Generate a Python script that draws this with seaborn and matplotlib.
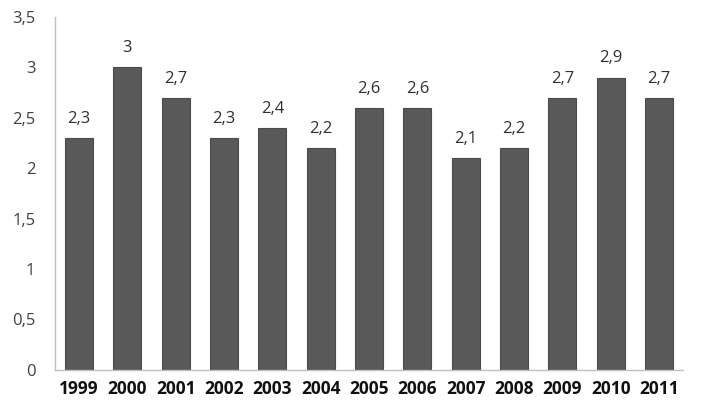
import matplotlib
matplotlib.use("Agg")
import matplotlib.pyplot as plt
import pandas as pd
import seaborn as sns

years = ["1999", "2000", "2001", "2002", "2003", "2004", "2005",
         "2006", "2007", "2008", "2009", "2010", "2011"]
values = [2.3, 3.0, 2.7, 2.3, 2.4, 2.2, 2.6, 2.6, 2.1, 2.2, 2.7, 2.9, 2.7]
y_ticks = [0, 0.5, 1, 1.5, 2, 2.5, 3, 3.5]


def comma(v):
    s = f"{v:g}"
    return s.replace(".", ",")


sns.set_theme(style="white")
plt.rcParams["font.family"] = ["Open Sans", "DejaVu Sans"]

df = pd.DataFrame({"year": years, "value": values})

fig = plt.figure(figsize=(7.03, 4.16), dpi=100)
ax = fig.add_axes([0.078, 0.111, 0.894, 0.848])

sns.barplot(data=df, x="year", y="value", color="#595959", width=0.58,
            edgecolor="#4a4a4a", linewidth=0.8, saturation=1, ax=ax)

for i, v in enumerate(values):
    ax.text(i, v + 0.11, comma(v), ha="center", va="bottom",
            fontsize=12, color="#303030")

ax.set_ylim(0, 3.5)
ax.set_xlim(-0.5, len(years) - 0.5)
ax.set_yticks(y_ticks)
ax.set_yticklabels([comma(t) for t in y_ticks], fontsize=12, color="#404040")
ax.set_xticks(range(len(years)))
ax.set_xticklabels(years, fontsize=12.5, fontweight="bold", color="#111111")
ax.tick_params(axis="both", length=0)
ax.tick_params(axis="y", pad=14)
ax.tick_params(axis="x", pad=7)
ax.set_xlabel("")
ax.set_ylabel("")

for side in ["top", "right"]:
    ax.spines[side].set_visible(False)
for side in ["left", "bottom"]:
    ax.spines[side].set_color("#bfbfbf")
    ax.spines[side].set_linewidth(1)

fig.savefig("out.png", dpi=100)
